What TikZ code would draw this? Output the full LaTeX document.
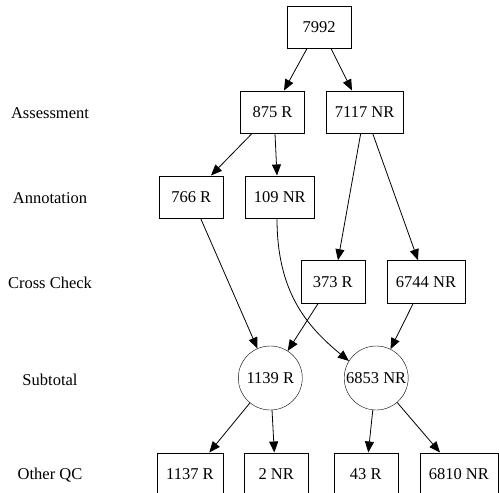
\documentclass[tikz,border=0pt]{standalone}
\usepackage{fontspec}
\setmainfont{Liberation Serif}
\usetikzlibrary{arrows.meta}
\tikzset{
	box/.style={draw,rectangle,minimum width=64pt,minimum height=42.6pt,inner xsep=9pt,font=\fontsize{16.5}{18}\selectfont},
	sum/.style={draw,circle,minimum size=64pt,inner sep=0pt,font=\fontsize{16.5}{18}\selectfont},
	stage/.style={font=\fontsize{16.5}{18}\selectfont},
	edge/.style={-{Triangle[length=11pt,width=9pt]},line width=0.8pt}
}
\begin{document}
\begin{tikzpicture}[x=1pt,y=-1pt]
	\useasboundingbox (0,0) rectangle (499,493);
	% Stufen
	\node [stage] (assess) at (50,113) {Assessment};
	\node [stage] (annot) at (50,198) {Annotation};
	\node [stage] (cross) at (50,283) {Cross Check};
	\node [stage] (subtot) at (50,380) {Subtotal};
	\node [stage] (other) at (50,475) {Other QC};
	% Knoten
	\node [box] (v7992) at (319,27) {7992};
	\node [box] (v875) at (272.5,112) {875 R};
	\node [box] (v7117) at (364.7,112) {7117 NR};
	\node [box] (v766) at (191.3,197) {766 R};
	\node [box] (v109) at (279.8,197) {109 NR};
	\node [box] (v373) at (332.7,281.7) {373 R};
	\node [box] (v6744) at (426,281.7) {6744 NR};
	\node [sum] (v1139) at (270.3,378) {1139 R};
	\node [sum] (v6853) at (376.2,378) {6853 NR};
	\node [box] (v1137) at (190,474) {1137 R};
	\node [box] (v2) at (276.2,474) {2 NR};
	\node [box] (v43) at (365.8,474) {43 R};
	\node [box] (v6810) at (458.8,474) {6810 NR};
	% Kanten
	\draw [edge] (v7992.south -| 307,0) -- (v875.north -| 284,0);
	\draw [edge] (v7992.south -| 331,0) -- (v7117.north -| 352,0);
	\draw [edge] (v875.south -| 252,0) -- (v766.north -| 211,0);
	\draw [edge] (v875.south -| 275,0) -- (v109.north -| 277,0);
	\draw [edge] (v7117.south -| 360.7,0) -- (v373.north -| 338,0);
	\draw [edge] (v7117.south -| 372.7,0) -- (v6744.north -| 418,0);
	\draw [edge] (v766.south -| 200.7,0) -- (v1139);
	\draw [edge] (v109.south -| 277,0) .. controls (277,290) and (305,325) .. (v6853.148);
	\draw [edge] (v373.south -| 318.3,0) -- (v1139);
	\draw [edge] (v6744.south -| 413.3,0) -- (v6853);
	\draw [edge] (v1139) -- (v1137.north -| 209.3,0);
	\draw [edge] (v1139) -- (v2.north -| 274.3,0);
	\draw [edge] (v6853) -- (v43.north -| 368.3,0);
	\draw [edge] (v6853) -- (v6810.north -| 440,0);
\end{tikzpicture}
\end{document}
